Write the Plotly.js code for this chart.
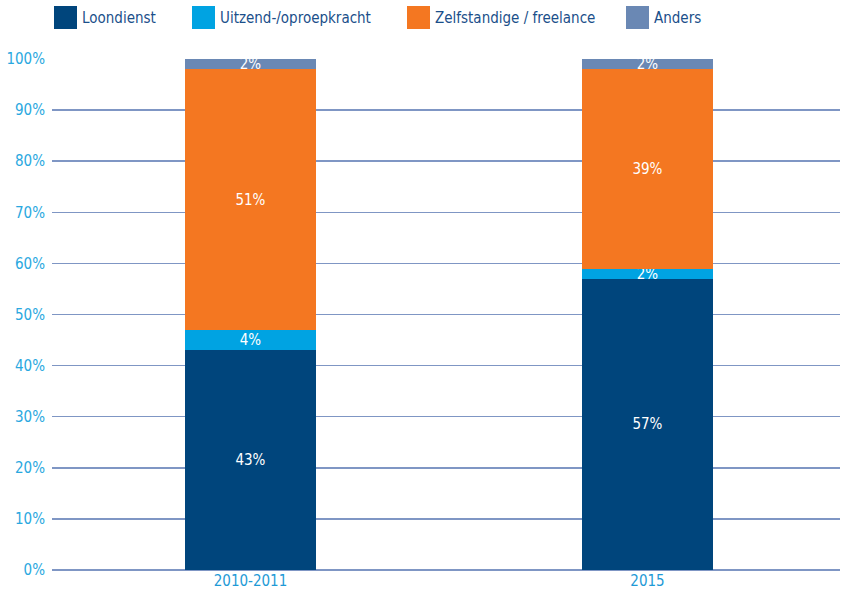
<!DOCTYPE html>
<html>
<head>
<meta charset="utf-8">
<script src="https://cdn.plot.ly/plotly-3.0.1.min.js"></script>
<style>html,body{margin:0;padding:0;background:#fff;}#chart{width:841px;height:597px;}</style>
</head>
<body>
<div id="chart"></div>
<script>
const categories = ["2010-2011", "2015"];
const seriesNames = ["Loondienst", "Uitzend-/oproepkracht", "Zelfstandige / freelance", "Anders"];
const loondienst = [43, 57];
const uitzend = [4, 2];
const zelfstandige = [51, 39];
const anders = [2, 2];
const yTicks = [0, 10, 20, 30, 40, 50, 60, 70, 80, 90, 100];

const colors = ["#00457C", "#00A3E2", "#F47721", "#6A88B4"];
const FONT = "'DejaVu Sans Condensed', 'Liberation Sans Narrow', sans-serif";
const values = [loondienst, uitzend, zelfstandige, anders];
const FS = 15;

const traces = values.map((v, i) => ({
  type: "bar",
  name: seriesNames[i],
  x: categories,
  y: v,
  marker: { color: colors[i], line: { width: 0 } },
  text: v.map(n => n + "%"),
  texttemplate: "%{text}",
  textposition: "inside",
  insidetextanchor: "middle",
  textangle: 0,
  constraintext: "none",
  cliponaxis: false,
  textfont: { color: "#FFFFFF", size: FS, family: FONT },
  hoverinfo: "skip",
  showlegend: false
}));

// custom legend (large square swatches)
const legendX = [54, 192, 407, 626];
const shapes = [];
const annotations = [];
seriesNames.forEach((name, i) => {
  shapes.push({
    type: "rect", xref: "paper", yref: "paper",
    x0: (legendX[i] - 52) / 788, x1: (legendX[i] + 23 - 52) / 788,
    y0: (570 - 6) / 511, y1: (570 - 29) / 511,
    fillcolor: colors[i], line: { width: 0 }
  });
  annotations.push({
    xref: "paper", yref: "paper",
    x: (legendX[i] + 26 - 52) / 788, y: (570 - 17.5) / 511,
    xanchor: "left", yanchor: "middle",
    text: name, showarrow: false,
    font: { family: FONT, size: FS, color: "#1B4F8A" }
  });
});

const layout = {
  width: 841, height: 597,
  margin: { l: 52, r: 1, t: 59, b: 27 },
  paper_bgcolor: "#FFFFFF",
  plot_bgcolor: "#FFFFFF",
  barmode: "stack",
  bargap: 0.67,
  showlegend: false,
  uniformtext: { mode: "show", minsize: FS },
  font: { family: FONT, size: FS, color: "#29A8E0" },
  xaxis: {
    type: "category",
    range: [-0.5, 1.485],
    showgrid: false,
    showline: false,
    zeroline: false,
    ticks: "",
    tickfont: { family: FONT, size: FS, color: "#1E9AD6" },
    fixedrange: true
  },
  yaxis: {
    range: [0, 100],
    tickvals: yTicks,
    ticktext: yTicks.map(t => t + "%"),
    showgrid: true,
    gridcolor: "#7F96C4",
    gridwidth: 1.5,
    zeroline: true,
    zerolinecolor: "#7F96C4",
    zerolinewidth: 1.5,
    showline: false,
    ticks: "outside",
    ticklen: 3,
    tickcolor: "rgba(0,0,0,0)",
    tickfont: { family: FONT, size: FS, color: "#29A8E0" },
    fixedrange: true
  },
  shapes: shapes,
  annotations: annotations
};

Plotly.newPlot("chart", traces, layout, { displayModeBar: false, staticPlot: true });
</script>
</body>
</html>
